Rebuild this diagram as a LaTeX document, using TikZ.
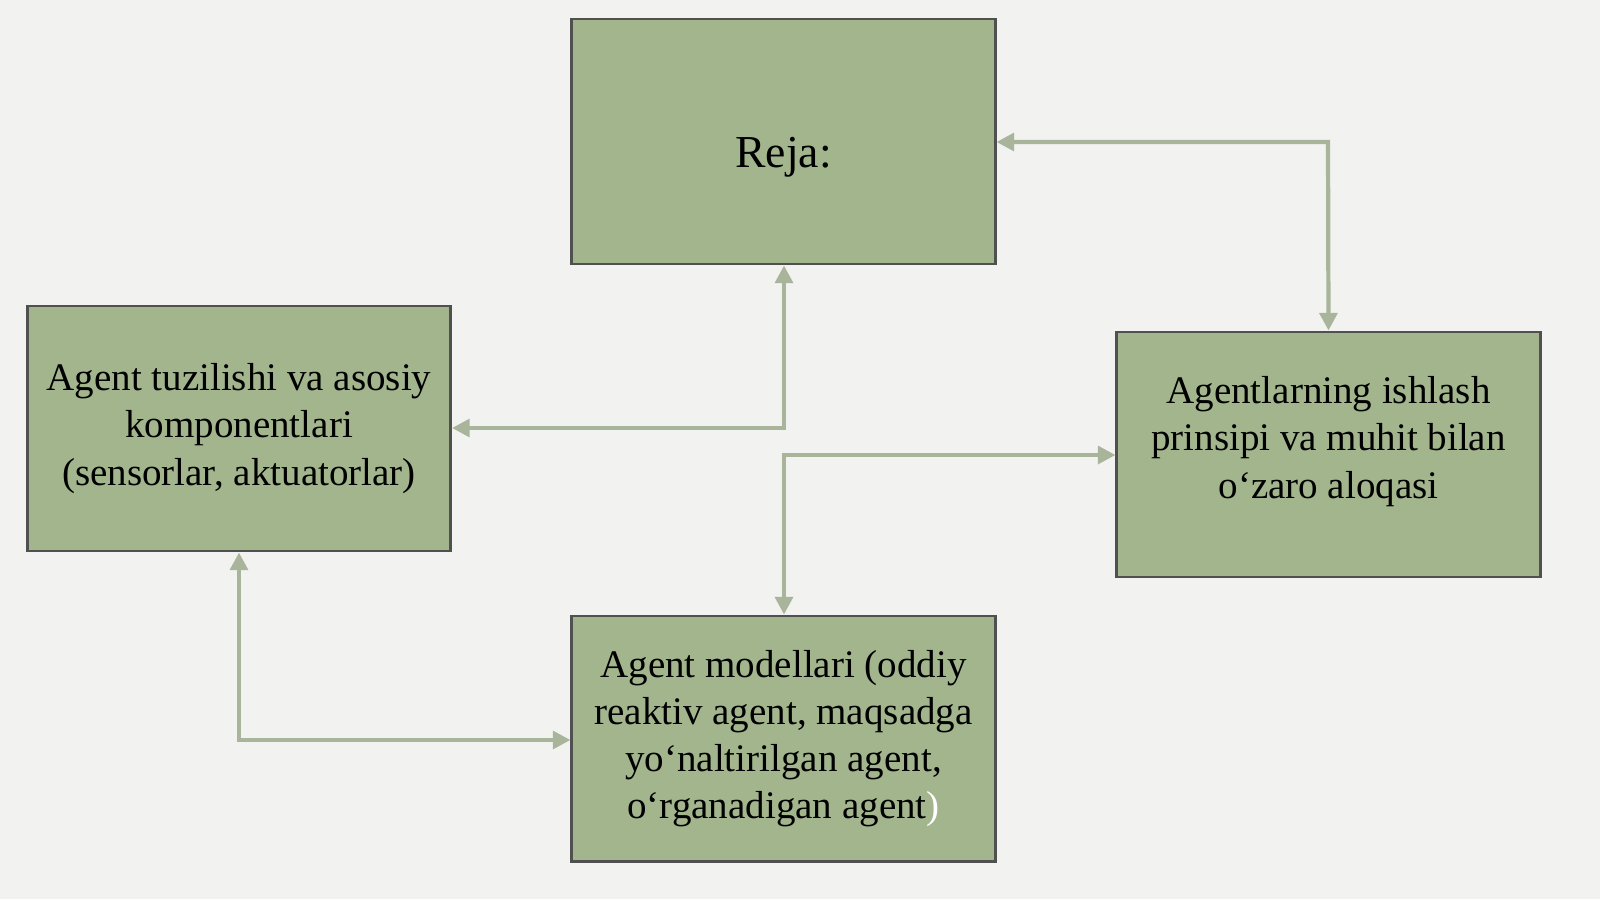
\documentclass[tikz,border=0pt]{standalone}
\usepackage{fontspec}
\setmainfont{Liberation Serif}
\usetikzlibrary{arrows.meta}
\definecolor{boxfill}{HTML}{A3B58D}
\definecolor{boxline}{HTML}{505050}
\definecolor{conn}{HTML}{A9B59B}
\definecolor{bg}{HTML}{F2F2F0}
\begin{document}
\begin{tikzpicture}[x=0.01cm,y=-0.01cm,
  box/.style={draw=boxline,fill=boxfill,line width=0.8pt,minimum width=4.23cm,minimum height=2.45cm,align=center,font=\fontsize{11.1}{13.4}\selectfont,inner sep=0pt},
  con/.style={draw=conn,line width=1.2pt,{Triangle[length=5pt,width=5pt]}-{Triangle[length=5pt,width=5pt]}}]
\fill[bg] (0,0) rectangle (1600,899);
\useasboundingbox (0,0) rectangle (1600,899);
\node[box,font=\fontsize{13}{15}\selectfont,text depth=0pt] (reja) at (783.5,141.5) {\rule{0pt}{0.52cm}Reja:};
\node[box] (left) at (239,428.5) {Agent tuzilishi va asosiy\\komponentlari\\(sensorlar, aktuatorlar)};
\node[box] (right) at (1328.5,454.5) {\begin{tabular}{@{}c@{}}Agentlarning ishlash\\prinsipi va muhit bilan\\o‘zaro aloqasi\rule[-0.4cm]{0pt}{0.4cm}\end{tabular}};
\node[box] (bottom) at (783.5,738.5) {Agent modellari (oddiy\\reaktiv agent, maqsadga\\yo‘naltirilgan agent,\\o‘rganadigan agent\textcolor{white}{)}};
\coordinate (c1) at (1328,142);
\coordinate (c2) at (784,428);
\coordinate (c3) at (784,455);
\coordinate (c4) at (239,740);
\draw[con] (right.north) -- (c1) -- (reja.east |- c1);
\draw[con] (reja.south -| c2) -- (c2) -- (left.east |- c2);
\draw[con] (right.west |- c3) -- (c3) -- (bottom.north -| c3);
\draw[con] (left.south -| c4) -- (c4) -- (bottom.west |- c4);
\end{tikzpicture}
\end{document}
